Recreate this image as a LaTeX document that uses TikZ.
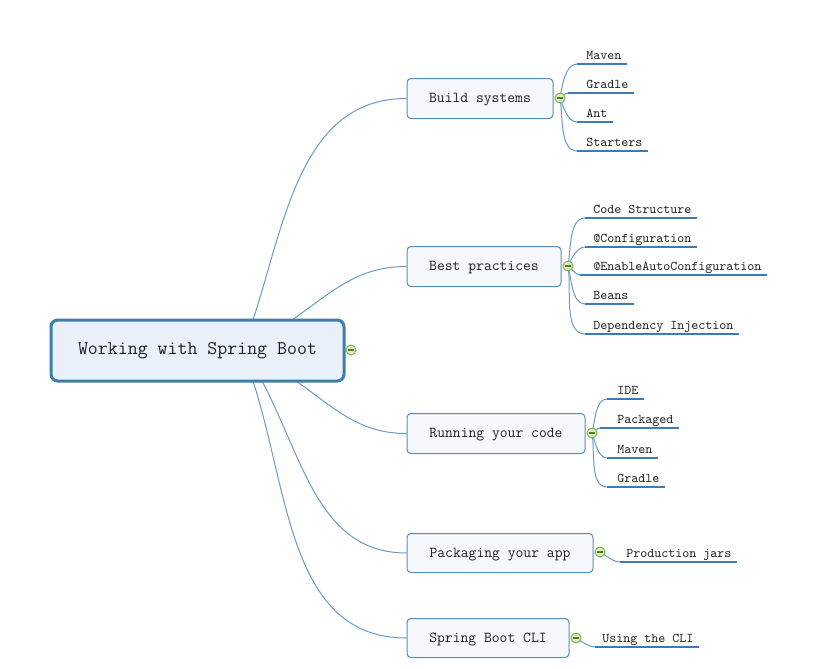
\documentclass[tikz,border=0pt]{standalone}
\usepackage{fontspec}
\newcommand\rootfont{\ttfamily\fontsize{14.5}{17}\selectfont}
\newcommand\topicfont{\ttfamily\fontsize{11.4}{13}\selectfont}
\newcommand\leaffont{\ttfamily\fontsize{10}{12}\selectfont}
\definecolor{rootblue}{HTML}{3D7EB0}
\definecolor{rootfill}{HTML}{EAF1FA}
\definecolor{topicblue}{HTML}{5B8DBA}
\definecolor{topicfill}{HTML}{F5F8FC}
\definecolor{linkblue}{HTML}{6A9BC8}
\definecolor{leafblue}{HTML}{3E7BB5}
\definecolor{foldgreen}{HTML}{78B345}
\definecolor{foldfill}{HTML}{DDF0C8}
\definecolor{foldminus}{HTML}{4F7A2A}
\definecolor{txt}{HTML}{1E1E1E}
\pgfdeclarelayer{back}
\pgfdeclarelayer{bg}
\pgfsetlayers{back,bg,main}
\tikzset{
  rootbox/.style={draw=rootblue, line width=2.25pt, fill=rootfill, rounded corners=5pt,
    minimum width=219.75pt, minimum height=45.75pt, font=\rootfont, text=txt, inner sep=0pt},
  topic/.style={draw=topicblue, line width=0.75pt, fill=topicfill, rounded corners=3pt,
    minimum height=30pt, font=\topicfont, text=txt, inner sep=0pt, text depth=0.6pt},
  leaf/.style={font=\leaffont, text=txt, anchor=base west, inner xsep=3.75pt, inner ysep=0pt},
  fold/.style={circle, draw=foldgreen, fill=foldfill, line width=0.7pt, minimum size=7.5pt, inner sep=0pt,
    path picture={\draw[foldminus, line width=0.8pt]
      ([xshift=1.6pt]path picture bounding box.west) -- ([xshift=-1.6pt]path picture bounding box.east);}},
  conn/.style={draw=linkblue, line width=0.75pt},
  uline/.style={draw=leafblue, line width=0.9pt}
}
\begin{document}
\begin{tikzpicture}[x=0.75pt, y=-0.75pt]
\begin{pgfonlayer}{back}
\fill[white] (0,0) rectangle (835,668);
\end{pgfonlayer}
\useasboundingbox (0,0) rectangle (835,668);

% root and topics
\node[rootbox] (root) at (197.5,350.5) {Working with Spring Boot};
\node[fold] (froot) at (351,350) {};

\node[topic, minimum width=109.5pt] (build) at (480,98.5) {Build systems};
\node[topic, minimum width=115.5pt] (best) at (484,266.5) {Best practices};
\node[topic, minimum width=133.5pt] (run) at (496,433.5) {Running your code};
\node[topic, minimum width=139.5pt, minimum height=29.25pt] (pack) at (500,553) {Packaging your app};
\node[topic, minimum width=121.5pt, minimum height=29.25pt] (cli) at (488,638) {Spring Boot CLI};

\node[fold] (fbuild) at (560,98) {};
\node[fold] (fbest) at (568,266) {};
\node[fold] (frun) at (592,433) {};
\node[fold] (fpack) at (600,552) {};
\node[fold] (fcli) at (576,638) {};

% leaves: text nodes
\node[leaf] (b1) at (581,59.5) {Maven};
\node[leaf] (b2) at (581,88.5) {Gradle};
\node[leaf] (b3) at (581,117.5) {Ant};
\node[leaf] (b4) at (581,146.5) {Starters};

\node[leaf] (p1) at (588,213.5) {Code Structure};
\node[leaf] (p2) at (588,242.5) {@Configuration};
\node[leaf] (p3) at (588,270.5) {@EnableAutoConfiguration};
\node[leaf] (p4) at (588,299.5) {Beans};
\node[leaf] (p5) at (588,329.5) {Dependency Injection};

\node[leaf] (r1) at (612,394.5) {IDE};
\node[leaf] (r2) at (612,423.5) {Packaged};
\node[leaf] (r3) at (612,453.5) {Maven};
\node[leaf] (r4) at (612,482.5) {Gradle};

\node[leaf] (k1) at (621,557.5) {Production jars};
\node[leaf] (c1) at (597,642.5) {Using the CLI};

% underline start points
\coordinate (lb1) at (577,64);
\coordinate (lb2) at (568,93);
\coordinate (lb3) at (577,122);
\coordinate (lb4) at (577,151);
\coordinate (lp1) at (585,218);
\coordinate (lp2) at (585,247);
\coordinate (lp3) at (580,275);
\coordinate (lp4) at (585,304);
\coordinate (lp5) at (585,334);
\coordinate (lr1) at (607,399);
\coordinate (lr2) at (600,428);
\coordinate (lr3) at (607,458);
\coordinate (lr4) at (607,487);
\coordinate (lk1) at (620,562);
\coordinate (lc1) at (595,647);

% root connection points
\coordinate (rb) at (253,320);
\coordinate (rp) at (292,320);
\coordinate (rr) at (296,381);
\coordinate (rk) at (262,381);
\coordinate (rc) at (253,381);

\begin{pgfonlayer}{bg}
  \draw[conn] (rb) to[out=72,in=180] (build.west);
  \draw[conn] (rp) to[out=35,in=180] (best.west);
  \draw[conn] (rr) to[out=-35,in=180] (run.west);
  \draw[conn] (rk) to[out=-62,in=180] (pack.west);
  \draw[conn] (rc) to[out=-72,in=180] (cli.west);

  \foreach \f/\l/\n/\a in {fbuild/lb1/b1/80, fbuild/lb2/b2/20, fbuild/lb3/b3/-70, fbuild/lb4/b4/-80,
      fbest/lp1/p1/80, fbest/lp2/p2/65, fbest/lp3/p3/-30, fbest/lp4/p4/-75, fbest/lp5/p5/-80,
      frun/lr1/r1/75, frun/lr2/r2/20, frun/lr3/r3/-70, frun/lr4/r4/-80,
      fpack/lk1/k1/-30, fcli/lc1/c1/-30}{
    \draw[conn] (\f.center) to[out=\a,in=180,looseness=0.8] (\l);
    \draw[uline] (\l) -- (\l -| \n.east);
  }
\end{pgfonlayer}
\end{tikzpicture}
\end{document}
